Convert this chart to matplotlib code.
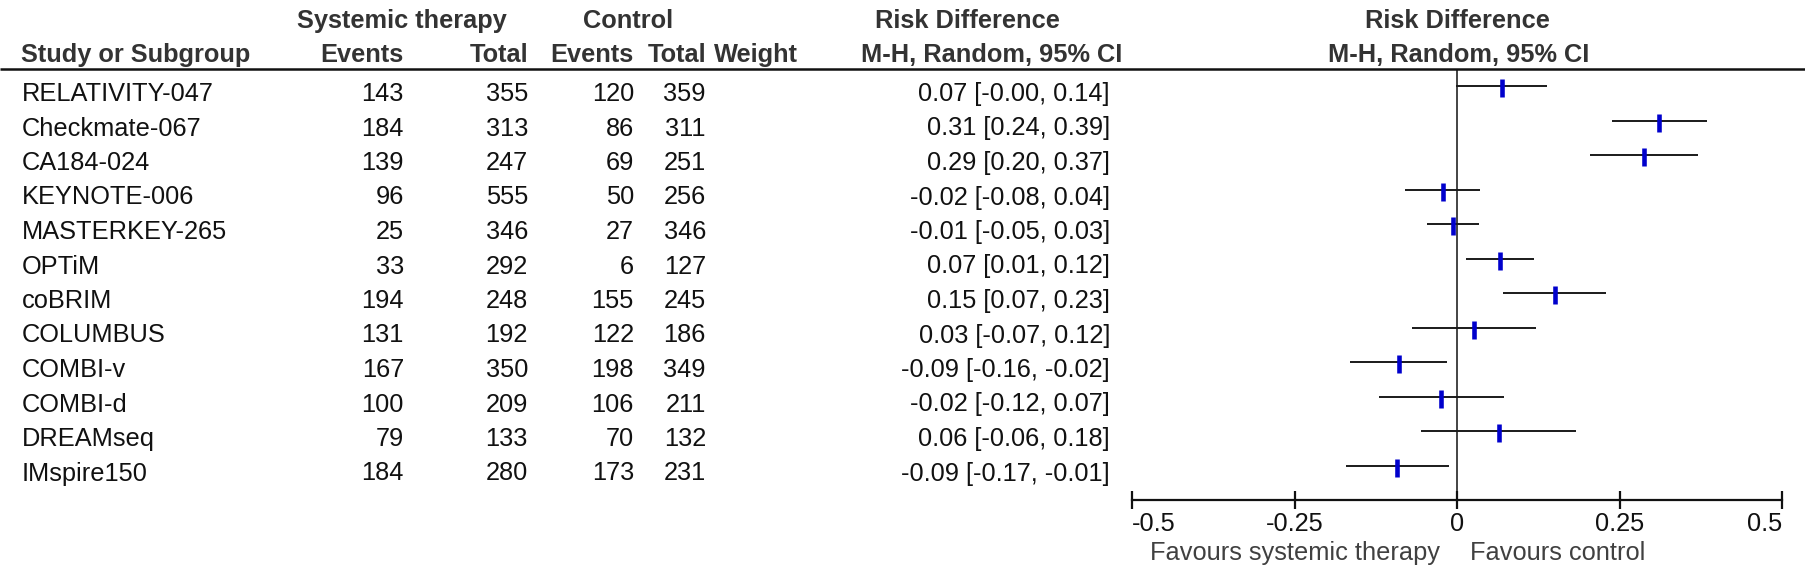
import matplotlib
matplotlib.use("Agg")
import matplotlib.pyplot as plt

plt.rcParams['font.family'] = ['Liberation Sans', 'DejaVu Sans']

studies = ["RELATIVITY-047", "Checkmate-067", "CA184-024", "KEYNOTE-006",
           "MASTERKEY-265", "OPTiM", "coBRIM", "COLUMBUS", "COMBI-v",
           "COMBI-d", "DREAMseq", "IMspire150"]
sys_events = [143, 184, 139, 96, 25, 33, 194, 131, 167, 100, 79, 184]
sys_total = [355, 313, 247, 555, 346, 292, 248, 192, 350, 209, 133, 280]
ctl_events = [120, 86, 69, 50, 27, 6, 155, 122, 198, 106, 70, 173]
ctl_total = [359, 311, 251, 256, 346, 127, 245, 186, 349, 211, 132, 231]
rd = [0.069, 0.311, 0.288, -0.022, -0.006, 0.066, 0.150, 0.026, -0.090, -0.024, 0.064, -0.092]
ci_lo = [-0.002, 0.238, 0.205, -0.080, -0.046, 0.014, 0.070, -0.069, -0.164, -0.120, -0.056, -0.171]
ci_hi = [0.139, 0.385, 0.371, 0.036, 0.034, 0.118, 0.229, 0.121, -0.016, 0.072, 0.183, -0.013]
xticks = [-0.5, -0.25, 0, 0.25, 0.5]
xtick_labels = ["-0.5", "-0.25", "0", "0.25", "0.5"]

W, H = 1806, 587
FS = 18.3
fig = plt.figure(figsize=(W / 100, H / 100), dpi=100)

bg = fig.add_axes([0, 0, 1, 1])
bg.set_xlim(0, W)
bg.set_ylim(H, 0)
bg.axis("off")

hdr_col = "#333333"
txt_col = "#111111"

# column right edges
c_se, c_st, c_ce, c_ct, c_w, c_ci = 404, 528, 634, 706, 714, 1110

y1 = 28
bg.text(402, y1, "Systemic therapy", ha="center", va="baseline", fontsize=FS, fontweight="bold", color=hdr_col)
bg.text(628, y1, "Control", ha="center", va="baseline", fontsize=FS, fontweight="bold", color=hdr_col)
bg.text(967, y1, "Risk Difference", ha="center", va="baseline", fontsize=FS, fontweight="bold", color=hdr_col)
bg.text(1457, y1, "Risk Difference", ha="center", va="baseline", fontsize=FS, fontweight="bold", color=hdr_col)
y2 = 62
bg.text(21, y2, "Study or Subgroup", ha="left", va="baseline", fontsize=FS, fontweight="bold", color=hdr_col)
bg.text(c_se, y2, "Events", ha="right", va="baseline", fontsize=FS, fontweight="bold", color=hdr_col)
bg.text(c_st, y2, "Total", ha="right", va="baseline", fontsize=FS, fontweight="bold", color=hdr_col)
bg.text(c_ce, y2, "Events", ha="right", va="baseline", fontsize=FS, fontweight="bold", color=hdr_col)
bg.text(c_ct, y2, "Total", ha="right", va="baseline", fontsize=FS, fontweight="bold", color=hdr_col)
bg.text(c_w, y2, "Weight", ha="left", va="baseline", fontsize=FS, fontweight="bold", color=hdr_col)
bg.text(1122, y2, "M-H, Random, 95% CI", ha="right", va="baseline", fontsize=FS, fontweight="bold", color=hdr_col)
bg.text(1459, y2, "M-H, Random, 95% CI", ha="center", va="baseline", fontsize=FS, fontweight="bold", color=hdr_col)

bg.plot([0, W], [68.5, 68.5], color="#111111", lw=1.8, solid_capstyle="butt")

row0 = 86
step = 34.5
for i, name in enumerate(studies):
    yb = row0 + step * i + 15
    bg.text(22, yb, name, ha="left", va="baseline", fontsize=FS, color=txt_col)
    bg.text(c_se, yb, str(sys_events[i]), ha="right", va="baseline", fontsize=FS, color=txt_col)
    bg.text(c_st, yb, str(sys_total[i]), ha="right", va="baseline", fontsize=FS, color=txt_col)
    bg.text(c_ce, yb, str(ctl_events[i]), ha="right", va="baseline", fontsize=FS, color=txt_col)
    bg.text(c_ct, yb, str(ctl_total[i]), ha="right", va="baseline", fontsize=FS, color=txt_col)
    bg.text(c_ci, yb, f"{rd[i]:.2f} [{ci_lo[i]:.2f}, {ci_hi[i]:.2f}]", ha="right", va="baseline",
            fontsize=FS, color=txt_col)

bg.text(1440, 560, "Favours systemic therapy", ha="right", va="baseline", fontsize=FS, color="#404040")
bg.text(1470, 560, "Favours control", ha="left", va="baseline", fontsize=FS, color="#404040")

x0, x1 = 1132, 1782
ytop, ybot = 69, 500
ax = fig.add_axes([x0 / W, (H - ybot) / H, (x1 - x0) / W, (ybot - ytop) / H])
ax.set_facecolor("none")
ax.set_xlim(-0.5, 0.5)
n = len(studies)
ax.set_ylim((ybot - row0) / step, (ytop - row0) / step)
for s in ["top", "left", "right"]:
    ax.spines[s].set_visible(False)
ax.spines["bottom"].set_linewidth(1.6)
ax.spines["bottom"].set_color("#111111")
ax.set_yticks([])
ax.set_xticks(xticks)
ax.set_xticklabels(xtick_labels, fontsize=FS)
ax.tick_params(axis="x", direction="inout", length=13, width=1.6, pad=2, colors="#111111")
lbls = ax.get_xticklabels()
lbls[0].set_ha("left")
lbls[-1].set_ha("right")

ax.axvline(0, color="#111111", lw=1.1, zorder=1)
ys = list(range(n))
ax.hlines(ys, ci_lo, ci_hi, color="#1a1a1a", lw=1.4, zorder=2)
ax.plot(rd, [y + 0.06 for y in ys], ls="none", marker="|", ms=12.5, mew=3.3, color="#0000CC", zorder=3)

fig.savefig("out.png", dpi=100)
